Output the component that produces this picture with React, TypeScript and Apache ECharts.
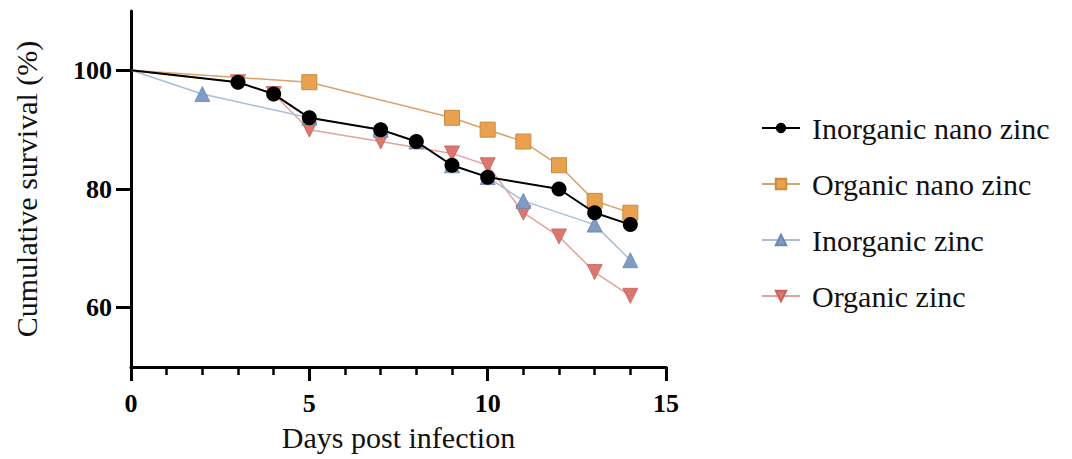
import React, { useEffect, useRef } from "react";
import * as echarts from "echarts";

const xTickLabels = ["0", "5", "10", "15"];
const yTickValues = [60, 80, 100];

const seriesNames = ["Inorganic nano zinc", "Organic nano zinc", "Inorganic zinc", "Organic zinc"];

const inorgNanoDays = [0, 3, 4, 5, 7, 8, 9, 10, 12, 13, 14];
const inorgNanoSurv = [100, 98, 96, 92, 90, 88, 84, 82, 80, 76, 74];

const orgNanoDays = [0, 5, 9, 10, 11, 12, 13, 14];
const orgNanoSurv = [100, 98, 92, 90, 88, 84, 78, 76];

const inorgDays = [0, 2, 5, 7, 8, 9, 10, 11, 13, 14];
const inorgSurv = [100, 96, 92, 90, 88, 84, 82, 78, 74, 68];

const orgDays = [0, 3, 4, 5, 7, 9, 10, 11, 12, 13, 14];
const orgSurv = [100, 98, 96, 90, 88, 86, 84, 76, 72, 66, 62];

// starting point (day 0) is drawn without a marker, as in the reference
const pairs = (xs: number[], ys: number[]) =>
  xs.map((x, i) => (x === 0 ? { value: [x, ys[i]], symbol: "none" } : { value: [x, ys[i]] }));

const SERIF = "'Liberation Serif', 'DejaVu Serif', serif";

export default function App() {
  const ref = useRef<HTMLDivElement>(null);
  useEffect(() => {
    if (!ref.current) return;
    const chart = echarts.init(ref.current, null, { renderer: "svg" });
    chart.setOption({
      animation: false,
      backgroundColor: "#ffffff",
      grid: { left: 131, right: 406, top: 11, bottom: 92, containLabel: false },
      legend: {
        orient: "vertical",
        left: 756,
        top: 108,
        itemWidth: 38,
        itemHeight: 13,
        itemGap: 26,
        data: seriesNames,
        textStyle: { fontFamily: SERIF, fontSize: 30, color: "#111", padding: [0, 0, 0, 7] },
      },
      xAxis: {
        type: "value",
        min: 0,
        max: 15,
        interval: 5,
        name: "Days post infection",
        nameLocation: "middle",
        nameGap: 55,
        nameTextStyle: { fontFamily: SERIF, fontSize: 30, color: "#111" },
        axisLine: { show: true, lineStyle: { color: "#000", width: 3 } },
        axisTick: { show: true, length: 14, lineStyle: { color: "#000", width: 3 } },
        minorTick: { show: true, splitNumber: 5, length: 8, lineStyle: { color: "#000", width: 2.5 } },
        splitLine: { show: false },
        minorSplitLine: { show: false },
        axisLabel: {
          margin: 23,
          fontFamily: SERIF,
          fontSize: 26,
          fontWeight: "bold",
          color: "#000",
          formatter: (v: number) => xTickLabels[Math.round(v / 5)] ?? "",
        },
      },
      yAxis: {
        type: "value",
        min: 50,
        max: 110,
        interval: 10,
        name: "Cumulative survival (%)",
        nameLocation: "middle",
        nameGap: 90,
        nameTextStyle: { fontFamily: SERIF, fontSize: 30, color: "#111" },
        axisLine: { show: true, lineStyle: { color: "#000", width: 3 } },
        axisTick: { show: true, length: 15, lineStyle: { color: "#000", width: 3 }, customValues: yTickValues },
        splitLine: { show: false },
        axisLabel: {
          margin: 19,
          fontFamily: SERIF,
          fontSize: 26,
          fontWeight: "bold",
          color: "#000",
          customValues: yTickValues,
        },
      },
      series: [
        {
          name: seriesNames[3],
          type: "line",
          z: 2,
          data: pairs(orgDays, orgSurv),
          symbol: "triangle",
          symbolRotate: 180,
          symbolSize: 15,
          lineStyle: { color: "#E3A29C", width: 1.5 },
          itemStyle: { color: "#DA776F", borderColor: "#C9605A", borderWidth: 0.8 },
        },
        {
          name: seriesNames[2],
          type: "line",
          z: 3,
          data: pairs(inorgDays, inorgSurv),
          symbol: "triangle",
          symbolSize: 15,
          lineStyle: { color: "#A9BDD8", width: 1.5 },
          itemStyle: { color: "#7E9CC4", borderColor: "#6A88B2", borderWidth: 0.8 },
        },
        {
          name: seriesNames[1],
          type: "line",
          z: 4,
          data: pairs(orgNanoDays, orgNanoSurv),
          symbol: "rect",
          symbolSize: 15,
          lineStyle: { color: "#D9A26C", width: 1.5 },
          itemStyle: { color: "#E9A04F", borderColor: "#C98A3C", borderWidth: 1 },
        },
        {
          name: seriesNames[0],
          type: "line",
          z: 5,
          data: pairs(inorgNanoDays, inorgNanoSurv),
          symbol: "circle",
          symbolSize: 15,
          lineStyle: { color: "#000", width: 2 },
          itemStyle: { color: "#000" },
        },
      ],
    });
    return () => chart.dispose();
  }, []);
  return <div ref={ref} style={{ position: "fixed", left: 0, top: 0, width: 1072, height: 459 }} />;
}
